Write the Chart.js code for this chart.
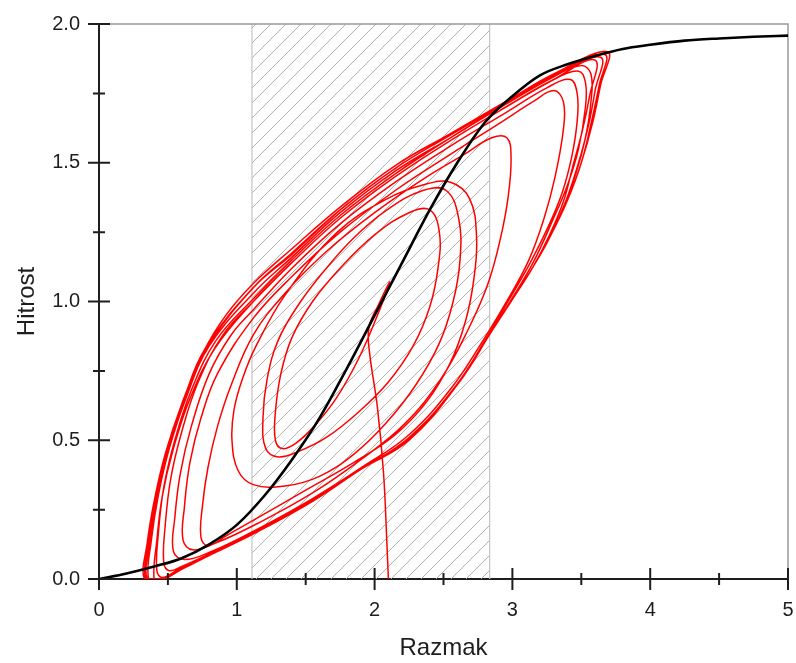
<!DOCTYPE html>
<html>
<head>
<meta charset="utf-8">
<script src="https://cdn.jsdelivr.net/npm/chart.js@4.4.1/dist/chart.umd.min.js"></script>
<style>
  html, body { margin: 0; padding: 0; background: #fff; }
</style>
</head>
<body>
<canvas id="chart" width="796" height="663"></canvas>
<script>
// osi
const xTicks = [0, 1, 2, 3, 4, 5];
const yTicks = [0, 0.5, 1.0, 1.5, 2.0];
const shadeRange = [1.11, 2.835];

// ravnovesna krivulja (crna)
const eqX = [0, 0.2, 0.4, 0.6, 0.8, 1.0, 1.2, 1.4, 1.6, 1.8, 2.0, 2.2, 2.4, 2.6, 2.8, 3.0, 3.2, 3.4, 3.6, 3.8, 4.0, 4.25, 4.5, 4.75, 5.0];
const eqY = [0, 0.02, 0.045, 0.075, 0.125, 0.195, 0.30, 0.43, 0.58, 0.76, 0.95, 1.14, 1.33, 1.50, 1.645, 1.74, 1.815, 1.855, 1.885, 1.91, 1.925, 1.94, 1.948, 1.954, 1.958];

// trajektorija (rdeca) - zacetek in posamezne zanke
const transient = [[2.10,0.00],[2.09,0.12],[2.065,0.38],[2.02,0.62],[1.96,0.83],[1.96,0.91],[2.03,0.99],[2.11,1.07],
  [2.02,0.95],[1.88,0.79],[1.72,0.65],[1.56,0.55],[1.43,0.49],[1.33,0.47],[1.28,0.50]];
const loop1 = [[1.28,0.60],[1.32,0.74],[1.40,0.87],[1.55,1.00],[1.75,1.12],[2.00,1.24],[2.25,1.32],[2.40,1.33],[2.47,1.25],
  [2.46,1.12],[2.40,0.98],[2.28,0.84],[2.10,0.71],[1.88,0.60],[1.65,0.51],[1.45,0.46],[1.30,0.44],[1.21,0.47]];
const loop2 = [[1.19,0.58],[1.22,0.72],[1.30,0.86],[1.45,0.99],[1.65,1.12],[1.85,1.23],[2.09,1.33],[2.35,1.40],[2.52,1.40],[2.61,1.30],
  [2.62,1.15],[2.57,1.00],[2.47,0.85],[2.30,0.70],[2.08,0.56],[1.85,0.45],[1.60,0.37],[1.35,0.335],[1.12,0.34],[1.01,0.39]];
const loop3 = [[0.965,0.50],[0.98,0.61],[1.04,0.72],[1.14,0.84],[1.36,1.03],[1.73,1.25],[2.09,1.37],[2.35,1.42],[2.55,1.43],[2.69,1.37],[2.74,1.23],
  [2.72,1.08],[2.66,0.93],[2.55,0.78],[2.38,0.64],[2.15,0.52],[1.85,0.42],[1.50,0.32],[1.15,0.22],[0.92,0.155],[0.79,0.12]];
const loop4 = [[0.74,0.15],[0.75,0.26],[0.79,0.40],[0.86,0.55],[0.96,0.70],[1.12,0.88],[1.35,1.03],[1.65,1.18],[2.00,1.32],[2.35,1.44],[2.65,1.53],[2.85,1.59],[2.96,1.59],[2.99,1.52],
  [2.97,1.38],[2.91,1.22],[2.82,1.06],[2.68,0.90],[2.48,0.72],[2.22,0.56],[1.90,0.43],[1.55,0.31],[1.15,0.20],[0.85,0.13],[0.68,0.105]];
const loop5 = [[0.61,0.14],[0.62,0.26],[0.66,0.42],[0.74,0.58],[0.86,0.74],[1.12,0.94],[1.40,1.09],[1.75,1.25],[2.15,1.40],[2.55,1.53],[2.90,1.64],[3.15,1.72],[3.30,1.76],[3.37,1.72],[3.37,1.62],
  [3.31,1.45],[3.23,1.30],[3.12,1.15],[2.97,1.01],[2.80,0.87],[2.56,0.69],[2.25,0.52],[1.90,0.40],[1.55,0.29],[1.15,0.18],[0.82,0.10],[0.62,0.07]];
const loop6 = [[0.54,0.10],[0.55,0.22],[0.59,0.38],[0.67,0.55],[0.80,0.74],[0.96,0.88],[1.12,0.97],[1.40,1.12],[1.75,1.28],[2.15,1.43],[2.55,1.56],[2.95,1.68],[3.25,1.77],[3.42,1.80],[3.47,1.75],[3.47,1.65],
  [3.43,1.52],[3.36,1.39],[3.26,1.27],[3.13,1.14],[2.98,1.01],[2.82,0.875],[2.58,0.69],[2.25,0.51],[1.90,0.395],[1.55,0.285],[1.15,0.175],[0.82,0.095],[0.60,0.045],[0.51,0.03]];
const loop7 = [[0.47,0.06],[0.48,0.19],[0.52,0.36],[0.60,0.53],[0.72,0.71],[0.90,0.88],[1.12,1.00],[1.40,1.14],[1.75,1.30],[2.15,1.45],[2.55,1.58],[2.95,1.70],[3.30,1.80],[3.48,1.83],[3.53,1.79],[3.53,1.70],
  [3.48,1.55],[3.40,1.42],[3.29,1.29],[3.15,1.14],[2.99,1.005],[2.84,0.885],[2.60,0.70],[2.25,0.505],[1.90,0.395],[1.55,0.28],[1.15,0.17],[0.82,0.09],[0.58,0.035],[0.46,0.005]];
const loop8 = [[0.42,0.03],[0.43,0.16],[0.47,0.33],[0.55,0.50],[0.67,0.68],[0.85,0.86],[1.12,1.01],[1.40,1.15],[1.75,1.31],[2.15,1.46],[2.55,1.59],[2.95,1.71],[3.30,1.81],[3.50,1.85],[3.57,1.82],[3.57,1.72],
  [3.53,1.59],[3.46,1.46],[3.37,1.34],[3.26,1.22],[3.15,1.125],[2.99,1.00],[2.84,0.885],[2.60,0.70],[2.25,0.50],[1.90,0.395],[1.55,0.28],[1.15,0.17],[0.82,0.09],[0.58,0.03],[0.45,0.0]];
const loop9 = [[0.40,0.0],[0.42,0.14],[0.46,0.30],[0.54,0.47],[0.66,0.65],[0.84,0.83],[1.12,1.00],[1.40,1.14],[1.75,1.30],[2.15,1.45],[2.55,1.58],[2.95,1.70],[3.30,1.80],[3.60,1.87],
  [3.56,1.74],[3.51,1.62],[3.44,1.49],[3.37,1.36],[3.27,1.24],[3.15,1.125],[2.99,1.00],[2.84,0.885],[2.60,0.70],[2.25,0.50],[1.90,0.395],[1.55,0.28],[1.15,0.17],[0.82,0.09],[0.60,0.035],[0.44,0.0]];
const loop10 = [[0.36,0.0],[0.38,0.14],[0.43,0.30],[0.51,0.47],[0.63,0.65],[0.80,0.84],[1.12,1.03],[1.40,1.16],[1.75,1.32],[2.15,1.47],[2.55,1.59],[2.95,1.71],[3.30,1.81],[3.64,1.88],
  [3.60,1.76],[3.55,1.63],[3.48,1.50],[3.39,1.365],[3.28,1.24],[3.15,1.125],[2.99,1.00],[2.84,0.885],[2.60,0.70],[2.25,0.50],[1.90,0.395],[1.55,0.28],[1.15,0.17],[0.82,0.09],[0.60,0.035],[0.45,0.0]];
const loop11 = [[0.34,0.0],[0.36,0.13],[0.41,0.29],[0.49,0.46],[0.61,0.64],[0.77,0.83],[1.12,1.05],[1.40,1.17],[1.75,1.33],[2.15,1.48],[2.55,1.60],[2.95,1.715],[3.30,1.815],[3.67,1.89],
  [3.63,1.78],[3.57,1.64],[3.50,1.50],[3.40,1.365],[3.28,1.24],[3.15,1.125],[2.99,1.00],[2.84,0.885],[2.60,0.70],[2.25,0.50],[1.90,0.395],[1.55,0.28],[1.15,0.17],[0.82,0.09],[0.60,0.035],[0.46,0.0]];
const loop12 = [[0.33,0.0],[0.35,0.13],[0.40,0.28],[0.48,0.45],[0.60,0.63],[0.76,0.82],[0.92,0.95],[1.12,1.065],[1.40,1.19],[1.75,1.34],[2.15,1.49],[2.55,1.605],[2.95,1.72],[3.30,1.82],[3.69,1.90],
  [3.64,1.78],[3.58,1.64],[3.50,1.50],[3.40,1.365],[3.28,1.24],[3.15,1.125],[2.99,1.00],[2.84,0.885],[2.60,0.70],[2.25,0.50],[1.90,0.395],[1.55,0.28],[1.15,0.17],[0.82,0.09],[0.60,0.035],[0.47,0.0]];
const loop13 = [[0.35,0.0],[0.37,0.13],[0.42,0.29],[0.50,0.46],[0.62,0.64],[0.78,0.83],[1.12,1.05],[1.40,1.175],[1.75,1.33],[2.15,1.48],[2.55,1.60],[2.95,1.715],[3.30,1.815],[3.69,1.90],
  [3.64,1.78],[3.58,1.64],[3.50,1.50],[3.40,1.365],[3.28,1.24],[3.15,1.125],[2.99,1.00],[2.84,0.885],[2.60,0.70],[2.25,0.50],[1.90,0.395],[1.55,0.28],[1.15,0.17],[0.82,0.09],[0.60,0.035],[0.48,0.0]];

const redPath = [transient, loop1, loop2, loop3, loop4, loop5, loop6, loop7, loop8, loop9, loop10, loop11, loop12, loop13]
  .flat().map(([x, y]) => ({x, y}));
const eqPath = eqX.map((x, i) => ({x, y: eqY[i]}));

const AXIS = '#1e1e1e';
// nevidne crtice samo za odmik napisov od osi
const hiddenGrid = { display: true, drawOnChartArea: false, drawTicks: true, tickLength: 19, color: 'rgba(0,0,0,0)' };

// srafirano obmocje + okvir
const shadePlugin = {
  id: 'shade',
  beforeDatasetsDraw(chart) {
    const {ctx, chartArea: a, scales: {x, y}} = chart;
    const l = x.getPixelForValue(shadeRange[0]);
    const r = x.getPixelForValue(shadeRange[1]);
    const t = y.getPixelForValue(2), b = y.getPixelForValue(0);
    ctx.save();
    ctx.beginPath();
    ctx.rect(l, t, r - l, b - t);
    ctx.clip();
    ctx.strokeStyle = '#b0b0b0';
    ctx.lineWidth = 1;
    ctx.beginPath();
    for (let c = t + 4; c < b + (r - l) + 15; c += 15) {
      ctx.moveTo(l, c);
      ctx.lineTo(l + (r - l) + 20, c - (r - l) - 20);
    }
    ctx.stroke();
    ctx.restore();
    ctx.save();
    ctx.strokeStyle = '#c4c4c4';
    ctx.lineWidth = 1.2;
    ctx.beginPath();
    ctx.moveTo(l, t); ctx.lineTo(l, b);
    ctx.moveTo(r, t); ctx.lineTo(r, b);
    ctx.stroke();
    // zgornji in desni rob
    ctx.strokeStyle = '#9a9a9a';
    ctx.lineWidth = 1.5;
    ctx.beginPath();
    ctx.moveTo(a.left, a.top); ctx.lineTo(a.right, a.top); ctx.lineTo(a.right, a.bottom);
    ctx.stroke();
    ctx.restore();
  },
  afterDraw(chart) {
    const {ctx, scales: {x, y}} = chart;
    const y0 = y.getPixelForValue(0), x0 = x.getPixelForValue(0);
    ctx.save();
    ctx.strokeStyle = AXIS;
    ctx.lineWidth = 2;
    ctx.beginPath();
    const xs = x.ticks.map(t => t.value);
    xs.forEach((v, i) => {
      const p = x.getPixelForValue(v);
      ctx.moveTo(p, y0 - 11); ctx.lineTo(p, y0 + 11);
      if (i < xs.length - 1) {
        const m = x.getPixelForValue((v + xs[i + 1]) / 2);
        ctx.moveTo(m, y0 - 6); ctx.lineTo(m, y0 + 6);
      }
    });
    const ys = y.ticks.map(t => t.value);
    ys.forEach((v, i) => {
      const p = y.getPixelForValue(v);
      ctx.moveTo(x0 - 11, p); ctx.lineTo(x0 + 11, p);
      if (i < ys.length - 1) {
        const m = y.getPixelForValue((v + ys[i + 1]) / 2);
        ctx.moveTo(x0 - 6, m); ctx.lineTo(x0 + 6, m);
      }
    });
    ctx.stroke();
    ctx.restore();
  }
};

new Chart(document.getElementById('chart'), {
  type: 'scatter',
  data: {
    datasets: [
      {
        label: 'ravnovesje',
        data: eqPath,
        showLine: true,
        borderColor: '#000',
        borderWidth: 2.6,
        pointRadius: 0,
        cubicInterpolationMode: 'monotone',
        order: 0
      },
      {
        label: 'trajektorija',
        data: redPath,
        showLine: true,
        borderColor: '#ff0000',
        borderWidth: 1.5,
        pointRadius: 0,
        tension: 0.4,
        order: 1
      }
    ]
  },
  options: {
    responsive: false,
    animation: false,
    layout: { padding: { top: 24, right: 8, left: 0, bottom: 0 } },
    plugins: { legend: { display: false }, tooltip: { enabled: false } },
    scales: {
      x: {
        type: 'linear',
        min: 0, max: 5,
        afterBuildTicks: s => { s.ticks = xTicks.map(v => ({value: v})); },
        afterFit: s => { s.height = 84; },
        grid: hiddenGrid,
        border: { display: true, color: AXIS, width: 2 },
        ticks: { color: AXIS, padding: 0, font: { family: 'Liberation Sans, Arial', size: 20 } },
        title: { display: true, text: 'Razmak', color: AXIS, padding: { top: 0, bottom: 0 },
                 font: { family: 'Liberation Sans, Arial', size: 24 } }
      },
      y: {
        type: 'linear',
        min: 0, max: 2,
        afterBuildTicks: s => { s.ticks = yTicks.map(v => ({value: v})); },
        afterFit: s => { s.width = 99; },
        grid: hiddenGrid,
        border: { display: true, color: AXIS, width: 2 },
        ticks: { color: AXIS, padding: 0, font: { family: 'Liberation Sans, Arial', size: 20 },
                 callback: v => v.toFixed(1) },
        title: { display: true, text: 'Hitrost', color: AXIS, padding: { top: 13, bottom: 0 },
                 font: { family: 'Liberation Sans, Arial', size: 24 } }
      }
    }
  },
  plugins: [shadePlugin]
});
</script>
</body>
</html>
